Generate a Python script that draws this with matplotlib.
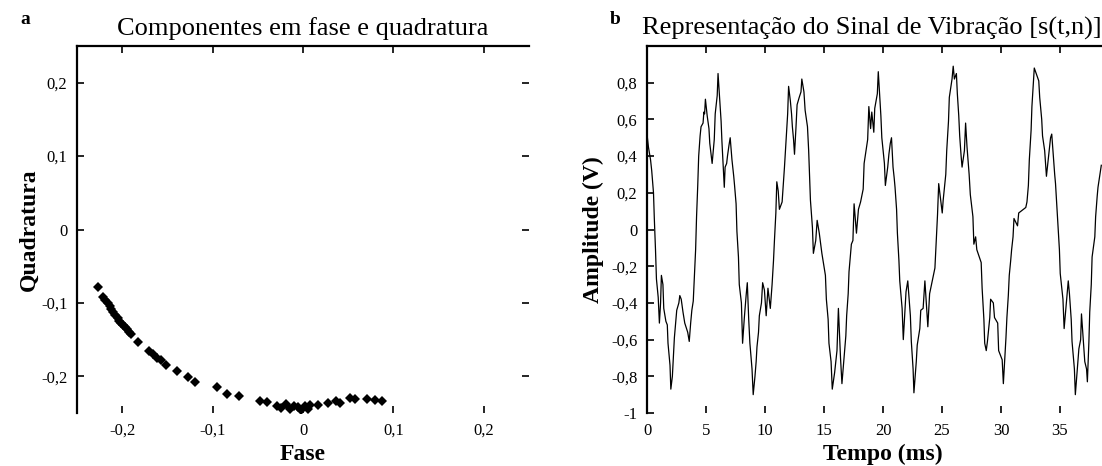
import matplotlib
matplotlib.use("Agg")
import matplotlib.pyplot as plt

plt.rcParams['font.family'] = ['Liberation Serif', 'DejaVu Serif']

# Panel a: in-phase / quadrature components
fase = [-0.227, -0.221, -0.219, -0.216, -0.214, -0.212, -0.210, -0.208, -0.205,
        -0.203, -0.201, -0.199, -0.197, -0.195, -0.193, -0.190, -0.183, -0.170,
        -0.166, -0.162, -0.157, -0.152, -0.139, -0.127, -0.119, -0.095, -0.084,
        -0.071, -0.048, -0.040, -0.029, -0.024, -0.019, -0.014, -0.010, -0.005,
        -0.002, 0.002, 0.005, 0.008, 0.017, 0.028, 0.036, 0.041, 0.052, 0.057,
        0.071, 0.080, 0.087]
quadratura = [-0.078, -0.092, -0.096, -0.100, -0.104, -0.108, -0.112, -0.116, -0.120,
              -0.124, -0.127, -0.130, -0.133, -0.136, -0.139, -0.143, -0.153, -0.166,
              -0.170, -0.175, -0.178, -0.184, -0.193, -0.201, -0.208, -0.215, -0.224,
              -0.227, -0.234, -0.235, -0.240, -0.243, -0.238, -0.245, -0.240, -0.242,
              -0.246, -0.241, -0.244, -0.239, -0.239, -0.237, -0.234, -0.237, -0.229,
              -0.231, -0.231, -0.232, -0.234]
iq_ticks = [-0.2, -0.1, 0.0, 0.1, 0.2]
iq_labels = ['-0,2', '-0,1', '0', '0,1', '0,2']

# Panel b: vibration signal s(t,n)
tempo_ms = [
    0.00, 0.12, 0.30, 0.40, 0.55, 0.62, 0.72, 0.80, 0.95, 1.05, 1.15, 1.22, 1.35, 1.42,
    1.60, 1.72, 1.78, 1.95, 2.02,
    2.15, 2.25, 2.32, 2.45, 2.52, 2.70, 2.78, 2.90, 3.05, 3.20, 3.45, 3.58, 3.70, 3.80,
    3.92, 4.00, 4.12, 4.20, 4.30, 4.38, 4.50, 4.58, 4.75, 4.82, 4.88, 4.95, 5.10, 5.25,
    5.32, 5.45, 5.52, 5.70, 5.78, 5.95, 6.02,
    6.15, 6.28, 6.35, 6.45, 6.55, 6.62, 6.75, 6.82, 6.95, 7.05, 7.20, 7.35, 7.42, 7.55,
    7.62, 7.75, 7.82, 8.00, 8.10, 8.25, 8.40, 8.50, 8.62, 8.72, 8.90, 9.00,
    9.15, 9.25, 9.32, 9.45, 9.52, 9.70, 9.80, 9.95, 10.10, 10.25, 10.45, 10.60, 10.72,
    10.80, 10.92, 11.00, 11.12, 11.22, 11.45, 11.65, 11.78, 11.92, 12.00, 12.15, 12.25,
    12.32, 12.42, 12.50, 12.62, 12.72, 12.90, 13.05, 13.12,
    13.30, 13.40, 13.60, 13.70, 13.78, 13.85, 14.02, 14.10, 14.30, 14.42, 14.60, 14.82,
    14.92, 15.12, 15.20, 15.35, 15.42, 15.60, 15.70,
    15.90, 16.10, 16.22, 16.40, 16.52, 16.70, 16.85, 16.92, 17.05, 17.12, 17.25, 17.32,
    17.45, 17.55, 17.75, 17.92, 18.10, 18.32, 18.40, 18.70, 18.80, 18.95, 19.05, 19.22,
    19.30, 19.52, 19.60,
    19.82, 19.90, 20.12, 20.20, 20.40, 20.50, 20.62, 20.72, 20.85, 20.95, 21.02, 21.15,
    21.22, 21.35, 21.42, 21.62, 21.72, 21.95, 22.10, 22.32, 22.40, 22.55, 22.62,
    22.82, 22.90, 23.12, 23.20, 23.40, 23.55, 23.80, 23.95, 24.40, 24.50, 24.62, 24.72,
    25.02, 25.10, 25.32, 25.40, 25.55, 25.62, 25.85, 25.95, 26.05, 26.22, 26.30,
    26.42, 26.50, 26.62, 26.70, 26.90, 27.00, 27.12, 27.30, 27.40, 27.62, 27.70, 27.85,
    27.95, 28.32, 28.40, 28.55, 28.62, 28.75, 28.85, 29.05, 29.12, 29.35, 29.45, 29.72,
    29.80, 30.10, 30.20,
    30.42, 30.50, 30.62, 30.70, 30.82, 30.90, 31.02, 31.10, 31.40, 31.50, 32.10, 32.20,
    32.32, 32.40, 32.55, 32.62, 32.75, 32.82,
    33.20, 33.28, 33.45, 33.52, 33.70, 33.85, 34.20, 34.30, 34.55, 34.62, 34.95, 35.02,
    35.25, 35.35, 35.70, 35.80, 35.95, 36.02, 36.22, 36.30,
    36.52, 36.60, 36.75, 36.82, 37.02, 37.10, 37.25, 37.32, 37.45, 37.52, 37.65, 37.72,
    37.95, 38.02, 38.15, 38.22, 38.50,
]
amplitude_v = [
    0.52, 0.45, 0.38, 0.32, 0.20, 0.06, -0.11, -0.27, -0.37, -0.51, -0.40, -0.25, -0.30, -0.43,
    -0.50, -0.52, -0.62, -0.74, -0.87,
    -0.80, -0.68, -0.59, -0.49, -0.44, -0.40, -0.36, -0.38, -0.45, -0.51, -0.56, -0.61, -0.51, -0.44,
    -0.39, -0.28, -0.11, 0.07, 0.24, 0.40, 0.51, 0.56, 0.58, 0.64, 0.63, 0.71, 0.62, 0.55,
    0.47, 0.40, 0.36, 0.49, 0.63, 0.73, 0.85,
    0.72, 0.59, 0.48, 0.35, 0.23, 0.34, 0.36, 0.40, 0.46, 0.50, 0.38, 0.29, 0.24, 0.14,
    -0.01, -0.15, -0.30, -0.40, -0.62, -0.48, -0.36, -0.29, -0.49, -0.62, -0.76, -0.90,
    -0.80, -0.72, -0.64, -0.56, -0.47, -0.40, -0.29, -0.33, -0.47, -0.32, -0.43, -0.30, -0.17,
    -0.06, 0.09, 0.26, 0.21, 0.11, 0.15, 0.34, 0.48, 0.63, 0.78, 0.70, 0.63,
    0.56, 0.49, 0.41, 0.55, 0.68, 0.72, 0.75, 0.82,
    0.75, 0.65, 0.56, 0.43, 0.29, 0.16, 0.01, -0.13, -0.06, 0.05, -0.02, -0.13,
    -0.17, -0.25, -0.38, -0.49, -0.62, -0.72, -0.87,
    -0.78, -0.66, -0.43, -0.70, -0.84, -0.70, -0.58, -0.47, -0.35, -0.23, -0.13, -0.08,
    -0.06, 0.14, -0.02, 0.11, 0.15, 0.22, 0.36, 0.49, 0.67, 0.55, 0.64, 0.53,
    0.66, 0.74, 0.86,
    0.62, 0.50, 0.36, 0.24, 0.34, 0.41, 0.47, 0.50, 0.34, 0.28, 0.23, 0.11,
    -0.02, -0.17, -0.28, -0.43, -0.60, -0.34, -0.28, -0.47, -0.61, -0.76, -0.89,
    -0.72, -0.63, -0.54, -0.44, -0.43, -0.28, -0.53, -0.35, -0.21, -0.08, 0.08, 0.25,
    0.09, 0.16, 0.30, 0.43, 0.59, 0.72, 0.82, 0.89, 0.82, 0.85, 0.74,
    0.62, 0.51, 0.40, 0.34, 0.43, 0.58, 0.45, 0.30, 0.19, 0.07, -0.08, -0.04,
    -0.11, -0.18, -0.32, -0.49, -0.62, -0.66, -0.61, -0.48, -0.38, -0.40, -0.48, -0.51,
    -0.66, -0.71, -0.84,
    -0.59, -0.48, -0.36, -0.25, -0.17, -0.11, -0.04, 0.06, 0.02, 0.09, 0.12, 0.15,
    0.24, 0.38, 0.54, 0.67, 0.81, 0.88,
    0.81, 0.72, 0.60, 0.51, 0.43, 0.29, 0.50, 0.52, 0.30, 0.25, -0.11, -0.24,
    -0.38, -0.54, -0.28, -0.35, -0.49, -0.61, -0.76, -0.90,
    -0.72, -0.65, -0.60, -0.46, -0.64, -0.72, -0.76, -0.83, -0.61, -0.45, -0.30, -0.15,
    -0.04, 0.07, 0.18, 0.23, 0.35,
]
amp_ticks = [-1.0, -0.8, -0.6, -0.4, -0.2, 0.0, 0.2, 0.4, 0.6, 0.8]
amp_labels = ['-1', '-0,8', '-0,6', '-0,4', '-0,2', '0', '0,2', '0,4', '0,6', '0,8']
time_ticks = [0, 5, 10, 15, 20, 25, 30, 35]
time_labels = ['0', '5', '10', '15', '20', '25', '30', '35']

W, H = 1102, 466
fig = plt.figure(figsize=(W / 100, H / 100), dpi=100)
fig.patch.set_facecolor('white')

ax1 = fig.add_axes([77 / W, 53 / H, 452 / W, 367 / H])
ax2 = fig.add_axes([647 / W, 53 / H, 472 / W, 367 / H])


def style(ax):
    for side in ('bottom', 'right'):
        ax.spines[side].set_visible(False)
    for side in ('left', 'top'):
        ax.spines[side].set_linewidth(1.6)
        ax.spines[side].set_color('black')
    ax.tick_params(direction='in', length=5, width=1.2, top=True, right=True,
                   labelsize=12, pad=7, colors='black')


# panel a
ax1.plot(fase, quadratura, linestyle='none', marker='D', markersize=5.5,
         color='black', markeredgewidth=0)
ax1.set_xlim(-0.25, 0.25)
ax1.set_ylim(-0.25, 0.25)
ax1.set_xticks(iq_ticks)
ax1.set_xticklabels(iq_labels)
ax1.set_yticks(iq_ticks)
ax1.set_yticklabels(iq_labels)
style(ax1)
ax1.set_title('Componentes em fase e quadratura', fontsize=19, pad=8)
ax1.set_xlabel('Fase', fontsize=17, fontweight='bold', labelpad=4)
ax1.set_ylabel('Quadratura', fontsize=17, fontweight='bold', labelpad=1)

# panel b
ax2.plot(tempo_ms, amplitude_v, color='black', linewidth=0.9)
ax2.set_xlim(0, 40)
ax2.set_ylim(-1, 1)
ax2.set_xticks(time_ticks)
ax2.set_xticklabels(time_labels)
ax2.set_yticks(amp_ticks)
ax2.set_yticklabels(amp_labels)
style(ax2)
ax2.set_title('Representação do Sinal de Vibração [s(t,n)]', fontsize=19, pad=8,
              x=(872 - 647) / 472)
ax2.set_xlabel('Tempo (ms)', fontsize=17, fontweight='bold', labelpad=4)
ax2.set_ylabel('Amplitude (V)', fontsize=17, fontweight='bold', labelpad=5)

fig.text(20 / W, 1 - 20 / H, 'a', fontsize=14, fontweight='bold', va='center', ha='left')
fig.text(610 / W, 1 - 20 / H, 'b', fontsize=14, fontweight='bold', va='center', ha='left')

fig.savefig('out.png', dpi=100, facecolor='white')
